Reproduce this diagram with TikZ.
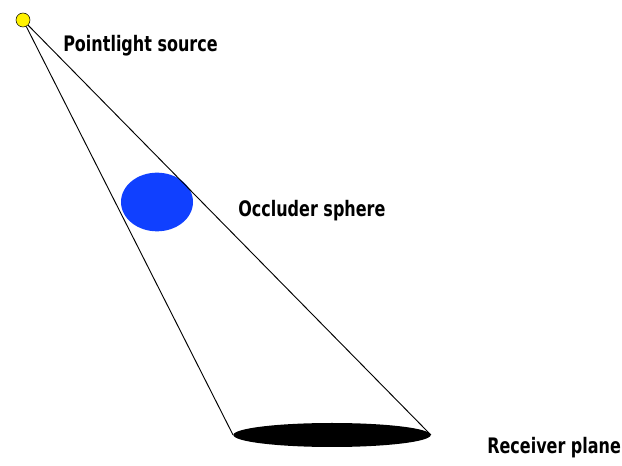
\documentclass[tikz,border=0pt]{standalone}
\usepackage{fontspec}
\setmainfont{DejaVu Sans}
\usepackage{graphicx}
\usetikzlibrary{shapes.geometric}
\definecolor{occblue}{RGB}{16,64,255}
\newcommand{\narrowtxt}[1]{\scalebox{0.75}[1]{#1}}
\begin{document}
\begin{tikzpicture}[
    x=0.75pt, y=-0.75pt,
    lbl/.style={anchor=west, inner sep=0pt, font=\fontsize{16}{18}\selectfont\bfseries},
    ray/.style={line width=0.7pt, black},
]
    \useasboundingbox (0,0) rectangle (622,466);

    % Light and blockers
    \node[circle, draw, fill=yellow, minimum size=10.5pt, inner sep=0pt] (light) at (23,20) {};
    \node[ellipse, fill=occblue, minimum width=54pt, minimum height=44pt, inner sep=0pt] (occ) at (157,202) {};
    \node[ellipse, fill=black, minimum width=148pt, minimum height=18pt, inner sep=0pt] (shadow) at (332,435) {};

    % Rays
    \draw[ray] (light) -- (shadow.west);
    \draw[ray] (light) -- (shadow.east);

    % Labels
    \node[lbl] (ltext) at (63,46) {\narrowtxt{Pointlight source}};
    \node[lbl] (otext) at (238,211) {\narrowtxt{Occluder sphere}};
    \node[lbl] (rtext) at (487,448) {\narrowtxt{Receiver plane}};
\end{tikzpicture}
\end{document}
